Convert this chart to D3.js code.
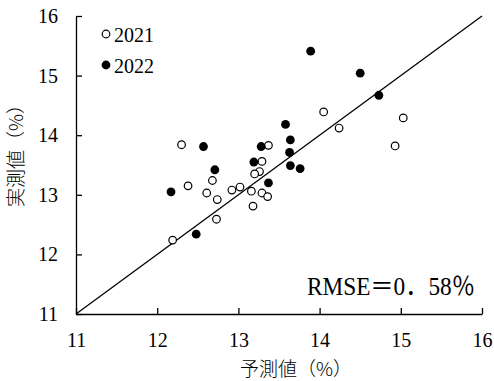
<!DOCTYPE html>
<html lang="ja">
<head>
<meta charset="UTF-8">
<title>予測値 vs 実測値</title>
<script src="https://d3js.org/d3.v7.min.js"></script>
<style>
    body { margin: 0; background: #fff; }
    .axis path, .axis line { stroke: #000; stroke-width: 1.3px; }
    .axis text { font-family: "Liberation Serif", serif; font-size: 20px; fill: #000; }
    .lbl { font-family: "Noto Sans CJK JP", sans-serif; font-size: 19px; font-weight: 300; fill: #000; }
    .leg { font-family: "Liberation Serif", serif; font-size: 20px; fill: #000; }
</style>
</head>
<body>
<svg id="canvas" width="494" height="381"></svg>
<script>
    // 2021 (open circles)
    let pred2021 = [12.30, 13.37, 13.29, 13.26, 13.20, 12.68, 12.38, 12.61, 12.74, 12.92, 13.02,
                    13.16, 13.29, 13.36, 13.18, 12.73, 12.19, 14.05, 14.24, 15.03, 14.93]
    let meas2021 = [13.84, 13.83, 13.56, 13.39, 13.35, 13.24, 13.15, 13.03, 12.92, 13.08, 13.13,
                    13.06, 13.03, 12.97, 12.81, 12.59, 12.24, 14.39, 14.12, 14.29, 13.82]
    // 2022 (filled circles)
    let pred2022 = [12.57, 13.28, 13.19, 12.71, 12.17, 13.37, 12.48, 13.89, 14.50, 14.73,
                    13.58, 13.64, 13.63, 13.64, 13.76]
    let meas2022 = [13.81, 13.81, 13.55, 13.42, 13.05, 13.20, 12.34, 15.41, 15.04, 14.67,
                    14.18, 13.92, 13.71, 13.49, 13.44]
    let ticks = [11, 12, 13, 14, 15, 16]
    let rmseLabel = "RMSE＝0．58％"

    let width = 494, height = 381
    let margin = {left: 76, right: 12, top: 16, bottom: 67}
    let svg = d3.select('#canvas')

    let x = d3.scaleLinear().domain([11, 16]).range([margin.left, width - margin.right])
    let y = d3.scaleLinear().domain([11, 16]).range([height - margin.bottom, margin.top])

    // 1:1 line
    svg.append('line')
        .attr('x1', x(11)).attr('y1', y(11))
        .attr('x2', x(16)).attr('y2', y(16))
        .attr('stroke', '#000').attr('stroke-width', 1.3)

    svg.append('g').attr('class', 'axis')
        .attr('transform', `translate(0,${y(11)})`)
        .call(d3.axisBottom(x).tickValues(ticks).tickFormat(d3.format('d'))
            .tickSizeInner(-6).tickSizeOuter(0).tickPadding(19))

    svg.append('g').attr('class', 'axis')
        .attr('transform', `translate(${x(11)},0)`)
        .call(d3.axisLeft(y).tickValues(ticks).tickFormat(d3.format('d'))
            .tickSizeInner(-6).tickSizeOuter(0).tickPadding(18))

    let pts2021 = pred2021.map((d, i) => [d, meas2021[i]])
    let pts2022 = pred2022.map((d, i) => [d, meas2022[i]])

    svg.append('g').selectAll('circle')
        .data(pts2021).enter().append('circle')
        .attr('cx', d => x(d[0])).attr('cy', d => y(d[1])).attr('r', 3.8)
        .attr('fill', '#fff').attr('stroke', '#000').attr('stroke-width', 1.2)

    svg.append('g').selectAll('circle')
        .data(pts2022).enter().append('circle')
        .attr('cx', d => x(d[0])).attr('cy', d => y(d[1])).attr('r', 4.4)
        .attr('fill', '#000')

    // legend
    let legend = svg.append('g')
    legend.append('circle').attr('cx', 106).attr('cy', 34).attr('r', 3.8)
        .attr('fill', '#fff').attr('stroke', '#000').attr('stroke-width', 1.2)
    legend.append('text').attr('class', 'leg').attr('x', 114).attr('y', 42).text('2021')
    legend.append('circle').attr('cx', 106).attr('cy', 65).attr('r', 4.4).attr('fill', '#000')
    legend.append('text').attr('class', 'leg').attr('x', 114).attr('y', 73).text('2022')

    svg.append('text')
        .attr('x', 307).attr('y', 295)
        .attr('textLength', 168).attr('lengthAdjust', 'spacingAndGlyphs')
        .style('font-family', '"Liberation Serif", "Noto Sans CJK JP", serif')
        .style('font-size', '25px')
        .text(rmseLabel)

    svg.append('text').attr('class', 'lbl')
        .attr('x', 296).attr('y', 376).attr('text-anchor', 'middle')
        .text('予測値（%）')

    svg.append('text').attr('class', 'lbl')
        .attr('transform', 'translate(23,151) rotate(-90)')
        .attr('text-anchor', 'middle')
        .text('実測値（%）')
</script>
</body>
</html>
